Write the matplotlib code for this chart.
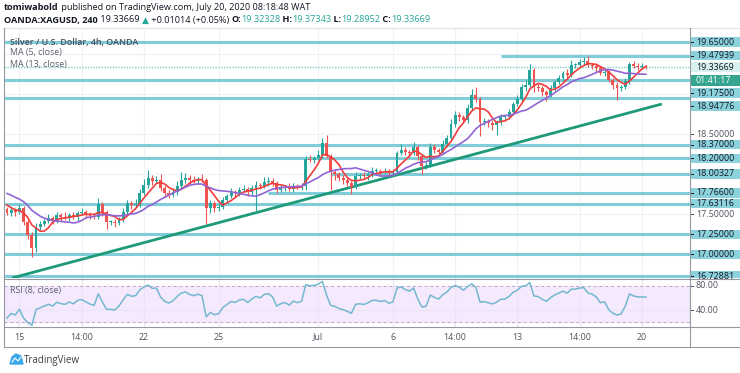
import matplotlib
matplotlib.use("Agg")
import matplotlib.pyplot as plt
import numpy as np
import pandas as pd
from matplotlib.patches import Rectangle, Polygon
from matplotlib.lines import Line2D

W, H = 740, 373
plt.rcParams['font.family'] = ['Open Sans', 'DejaVu Sans']

# 4h closes before the visible window (only used to seed the MAs / RSI)
warmup_closes = [17.84, 17.88, 17.86, 17.82, 17.87, 17.85, 17.83, 17.85, 17.72, 17.66, 17.62, 17.56]

# visible 4h candles, Jun 15 -> Jul 20 2020 (open = previous close)
closes = [
    17.515, 17.553, 17.528, 17.578, 17.403, 17.241, 17.078, 17.340, 17.378, 17.415,
    17.453, 17.415, 17.490, 17.465, 17.453, 17.490, 17.465, 17.515, 17.528, 17.503,
    17.478, 17.465, 17.628, 17.528, 17.403, 17.403, 17.390, 17.440, 17.528, 17.640,
    17.615, 17.628, 17.765, 17.865, 17.952, 17.915, 17.927, 17.827, 17.765, 17.740,
    17.777, 17.852, 17.927, 17.952, 17.927, 17.915, 17.940, 17.927, 17.578, 17.640,
    17.578, 17.590, 17.678, 17.727, 17.777, 17.765, 17.802, 17.815, 17.777, 17.827,
    17.865, 17.852, 17.902, 17.915, 17.890, 17.802, 17.827, 17.840, 17.815, 17.852,
    17.840, 17.852, 18.189, 18.177, 18.202, 18.239, 18.389, 18.227, 18.027, 18.002,
    17.952, 17.927, 17.890, 17.840, 17.977, 17.990, 17.977, 18.002, 18.040, 18.040,
    18.027, 18.040, 18.015, 18.027, 18.264, 18.302, 18.277, 18.264, 18.339, 18.227,
    18.102, 18.114, 18.339, 18.302, 18.277, 18.377, 18.452, 18.626, 18.739, 18.714,
    18.676, 18.826, 18.988, 18.938, 18.651, 18.664, 18.639, 18.614, 18.651, 18.714,
    18.714, 18.776, 18.876, 18.938, 19.088, 19.113, 19.300, 19.088, 19.076, 19.026,
    18.988, 19.076, 19.151, 19.201, 19.263, 19.238, 19.363, 19.363, 19.400, 19.413,
    19.363, 19.350, 19.325, 19.263, 19.275, 19.176, 19.113, 19.076, 19.088, 19.163,
    19.375, 19.350, 19.338, 19.338, 19.337,
]
upper_wicks = [
    .03, .04, .03, .05, .03, .02, .04, .05, .04, .03,
    .05, .03, .04, .03, .06, .03, .04, .03, .05, .03,
    .03, .04, .08, .03, .02, .03, .04, .03, .05, .04,
    .03, .06, .05, .08, .10, .04, .05, .08, .03, .04,
    .05, .06, .10, .06, .04, .05, .03, .06, .02, .04,
    .03, .05, .04, .03, .05, .03, .04, .05, .03, .04,
    .05, .03, .06, .05, .04, .03, .04, .03, .05, .04,
    .03, .04, .04, .05, .03, .06, .06, .10, .03, .04,
    .03, .04, .03, .02, .05, .03, .04, .03, .05, .04,
    .03, .04, .03, .04, .03, .08, .04, .03, .06, .03,
    .03, .04, .05, .04, .03, .05, .04, .06, .05, .04,
    .03, .05, .07, .10, .02, .04, .03, .04, .03, .04,
    .03, .04, .03, .05, .04, .06, .08, .03, .04, .03,
    .03, .04, .03, .04, .03, .05, .06, .03, .04, .05,
    .06, .03, .04, .03, .04, .03, .02, .04, .03, .04,
    .03, .04, .04, .05, .03,
]
lower_wicks = [
    .03, .04, .05, .03, .04, .05, .11, .05, .04, .03,
    .03, .04, .03, .05, .03, .04, .03, .05, .03, .04,
    .04, .03, .03, .05, .09, .04, .05, .03, .04, .03,
    .05, .03, .04, .03, .04, .05, .03, .04, .05, .04,
    .03, .04, .03, .04, .05, .03, .04, .03, .20, .06,
    .05, .04, .03, .04, .03, .05, .04, .03, .05, .04,
    .30, .04, .03, .05, .04, .04, .03, .04, .03, .04,
    .03, .04, .05, .03, .04, .03, .04, .03, .22, .08,
    .04, .05, .04, .09, .03, .04, .03, .05, .04, .03,
    .04, .03, .04, .03, .04, .03, .04, .05, .03, .05,
    .10, .04, .03, .04, .05, .03, .04, .03, .04, .05,
    .03, .04, .03, .04, .17, .04, .05, .06, .12, .04,
    .05, .03, .04, .03, .04, .05, .03, .06, .04, .05,
    .07, .03, .04, .03, .04, .05, .03, .04, .03, .04,
    .03, .04, .05, .03, .04, .03, .05, .15, .04, .03,
    .04, .03, .04, .03, .03,
]

# drawn support / resistance levels: (price, first bar)
level_prices = [19.65, 19.47939, 19.175, 18.94776, 18.37, 18.2, 18.00327, 17.766, 17.63116, 17.25, 17.0, 16.72881]
level_start = [-1, 119, -1, -1, -1, -1, 78, 63, -1, -1, -1, -1]
last_price = 19.33669
trend_x = [1.2, 157.8]
trend_y = [16.704, 18.876]

tick_bars = [3, 18, 33, 51, 75, 93, 108, 123, 138, 153]
tick_labels = ['15', '14:00', '22', '25', 'Jul', '6', '14:00', '13', '14:00', '20']

UP, DN = '#26a69a', '#ef5350'
LVL = '#80cdd9'
TXT = '#131722'
GREY = '#50535e'

# ---- derived series
allc = pd.Series(warmup_closes + closes)
ma5 = allc.rolling(5).mean().values[len(warmup_closes):]
ma13 = allc.rolling(13).mean().values[len(warmup_closes):]
d = allc.diff()
up = d.clip(lower=0).ewm(alpha=1 / 8, adjust=False).mean()
dn = (-d.clip(upper=0)).ewm(alpha=1 / 8, adjust=False).mean()
rsi = (100 - 100 / (1 + up / dn)).values[len(warmup_closes):]

c = np.array(closes)
o = np.array([warmup_closes[-1]] + closes[:-1])
hi = np.maximum(o, c) + np.array(upper_wicks)
lo = np.minimum(o, c) - np.array(lower_wicks)
x = np.arange(len(c))

fig = plt.figure(figsize=(W / 100, H / 100), dpi=100)
fig.patch.set_facecolor('white')


def rect(l, t, r, b):
    return [l / W, 1 - b / H, (r - l) / W, (b - t) / H]


XL = (-0.72, 164.6)
YL = (16.704, 19.825)

ax = fig.add_axes(rect(4, 28, 690, 278))
ax.set_xlim(*XL)
ax.set_ylim(*YL)
for tb in tick_bars:
    ax.axvline(tb, color='#eef1f6', lw=0.8, zorder=0)
for g in [17.0, 17.5, 18.0, 18.5, 19.0, 19.5]:
    ax.axhline(g, color='#eef1f6', lw=0.8, zorder=0)

for p, s in zip(level_prices, level_start):
    ax.hlines(p, max(s, XL[0]), XL[1], color=LVL, lw=2.2, zorder=1)
ax.axhline(last_price, color='#7fcfc5', lw=1, ls=(0, (1, 1)), zorder=1)
ax.plot(trend_x, trend_y, color='#1e9a78', lw=2, zorder=2, solid_capstyle='butt')

cols = np.where(c >= o, UP, DN)
ax.vlines(x, lo, hi, colors=cols, lw=0.8, zorder=3)
ax.bar(x, np.maximum(np.abs(c - o), 0.008), bottom=np.minimum(o, c), width=0.7,
       color=cols, zorder=4, linewidth=0)
ax.plot(x, ma5, color='#f23c3c', lw=1.2, zorder=5)
ax.plot(x, ma13, color='#9164d6', lw=1.2, zorder=5)
ax.axis('off')

ax.text(6 / 686, 1 - 14 / 250, 'Silver / U.S. Dollar, 4h, OANDA', transform=ax.transAxes,
        fontsize=6.4, color='#4a4e59', va='center', fontweight='semibold')
ax.text(6 / 686, 1 - 25 / 250, 'MA (5, close)', transform=ax.transAxes,
        fontsize=6.4, color='#5d606b', va='center')
ax.text(6 / 686, 1 - 37 / 250, 'MA (13, close)', transform=ax.transAxes,
        fontsize=6.4, color='#5d606b', va='center')

# ---- RSI panel
ar = fig.add_axes(rect(4, 278, 690, 327))
ar.set_xlim(*XL)
ar.set_ylim(11.7, 93.3)
ar.axhspan(20, 80, color='#f4e9fd', zorder=0)
for tb in tick_bars:
    ar.axvline(tb, color='#ebe4f5', lw=0.8, zorder=0)
ar.axhline(40, color='#ebe4f5', lw=0.8, zorder=0)
for lv in (20, 80):
    ar.axhline(lv, color='#b7a9c6', lw=0.7, ls=(0, (3, 3)), zorder=1)
ar.plot(x, rsi, color='#74b8cf', lw=1.1, zorder=3)
ar.axis('off')
ar.text(6 / 686, 1 - 13 / 49, 'RSI (8, close)', transform=ar.transAxes,
        fontsize=6.4, color='#5d606b', va='center')

# ---- right price scale
axr = fig.add_axes(rect(690, 28, 740, 278))
axr.set_xlim(0, 50)
axr.set_ylim(*YL)
axr.axis('off')
px = (YL[1] - YL[0]) / 250.0
label_at = {19.175: 19.65 - 51 * px, 18.94776: 19.65 - 64 * px}
for p in level_prices:
    yy = label_at.get(p, p)
    axr.add_patch(Rectangle((0.5, yy - 4.6 * px), 60, 9.2 * px, color='#8bd2dd', lw=0, zorder=2))
    axr.plot([0, 3], [yy, yy], color=TXT, lw=0.7, zorder=3)
    axr.text(6, yy, f'{p:.5f}', fontsize=6.4, color=TXT, va='center', zorder=4)
for p in (18.5, 17.5):
    axr.plot([0, 3], [p, p], color=GREY, lw=0.7, zorder=1)
    axr.text(6, p, f'{p:.5f}', fontsize=6.4, color=GREY, va='center', zorder=1)
# last price and countdown
axr.add_patch(Rectangle((0.5, last_price - 5 * px), 60, 10 * px, color='#d9f1ee', lw=0, zorder=5))
axr.text(6, last_price, f'{last_price:.5f}', fontsize=6.4, color=TXT, va='center', zorder=6)
cy = 19.65 - 38.5 * px
axr.add_patch(Rectangle((0.5, cy - 5.5 * px), 60, 11 * px, color='#36a58f', lw=0, zorder=5))
axr.text(6, cy, '01:41:17', fontsize=6.4, color='white', va='center', zorder=6)

arr = fig.add_axes(rect(690, 278, 740, 327))
arr.set_xlim(0, 50)
arr.set_ylim(11.7, 93.3)
arr.axis('off')
for v in (80, 40):
    arr.plot([0, 3], [v, v], color=GREY, lw=0.7)
    arr.text(6, v, f'{v:.2f}', fontsize=6.4, color=GREY, va='center')

# ---- time axis
at = fig.add_axes(rect(4, 327, 690, 347))
at.set_xlim(*XL)
at.set_ylim(0, 1)
at.axis('off')
for tb, tl in zip(tick_bars, tick_labels):
    at.text(tb, 0.5, tl, ha='center', va='center', fontsize=6.4, color=GREY)

# ---- frame lines
def fline(x0, y0, x1, y1, col='#9598a1', lw=0.8):
    fig.add_artist(Line2D([x0 / W, x1 / W], [1 - y0 / H, 1 - y1 / H], color=col, lw=lw))

fline(4, 28, 740, 28, '#e0e3eb')
fline(4, 28, 4, 347)
fline(690, 28, 690, 347)
fline(4, 278.5, 740, 278.5)
fline(4, 327, 740, 327)
fline(4, 347, 740, 347)

# ---- header
def pieces(x0, y0, parts, size=6.6):
    r = fig.canvas.get_renderer()
    cx = x0
    for s, col, wt in parts:
        t = fig.text(cx / W, 1 - y0 / H, s, color=col, fontsize=size, fontweight=wt, va='center')
        bb = t.get_window_extent(renderer=r)
        cx += bb.width

pieces(4, 7, [('tomiwabold', TXT, 'bold'),
              (' published on TradingView.com, July 20, 2020 08:18:48 WAT', TXT, 'normal')])
pieces(4, 20, [('OANDA:XAGUSD, 240', TXT, 'bold'), (' 19.33669 ', TXT, 'normal'),
               ('\u25b2', UP, 'normal'), (' +0.01014 (+0.05%) ', TXT, 'normal'),
               ('O:', TXT, 'bold'), ('19.32328', UP, 'normal'),
               (' H:', TXT, 'bold'), ('19.37343', UP, 'normal'),
               (' L:', TXT, 'bold'), ('19.28952', UP, 'normal'),
               (' C:', TXT, 'bold'), ('19.33669', UP, 'normal')])

# ---- TradingView logo
fig.add_artist(Polygon([(10 / W, 1 - 364 / H), (12 / W, 1 - 357 / H), (16 / W, 1 - 354 / H),
                        (21 / W, 1 - 356 / H), (23 / W, 1 - 364 / H)],
                       closed=True, color='#3aa8e8', transform=fig.transFigure))
fig.add_artist(Line2D([12 / W, 15 / W, 18 / W, 21 / W], [1 - 362 / H, 1 - 358 / H, 1 - 361 / H, 1 - 357 / H],
                      color='white', lw=0.8))
fig.text(24 / W, 1 - 360 / H, 'TradingView', fontsize=7, color='#3b3e48', va='center')

fig.savefig('out.png', dpi=100)
